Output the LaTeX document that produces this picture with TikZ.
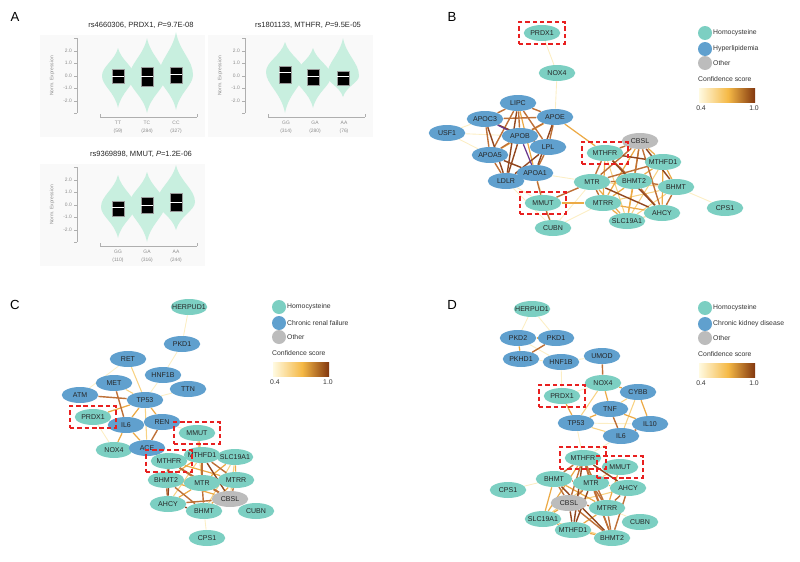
\documentclass[tikz,border=0pt]{standalone}
\usepackage{fontspec}
\setmainfont{Liberation Sans}
\usetikzlibrary{shapes.geometric, fit, backgrounds}

\definecolor{hcyfill}{RGB}{124,207,194}
\definecolor{disfill}{RGB}{96,160,206}
\definecolor{othfill}{RGB}{188,188,188}
\definecolor{violinfill}{RGB}{200,239,223}
\definecolor{plotbg}{RGB}{249,249,249}
\definecolor{axisgrey}{RGB}{175,175,175}
\definecolor{boxred}{RGB}{232,32,32}
\definecolor{conf1}{RGB}{252,238,196}
\definecolor{conf2}{RGB}{248,210,130}
\definecolor{conf3}{RGB}{236,170,70}
\definecolor{conf4}{RGB}{190,112,55}
\definecolor{conf5}{RGB}{145,70,30}
\definecolor{confp}{RGB}{105,55,140}
\definecolor{confbar1}{RGB}{255,250,225}
\definecolor{confbar2}{RGB}{245,185,70}
\definecolor{confbar3}{RGB}{130,55,15}

\tikzset{
    gene/.style={ellipse, minimum width=0.73cm, minimum height=0.32cm, inner xsep=-0.1cm, inner ysep=0pt,
        text=black!85, font=\fontsize{4}{4.5}\selectfont},
    hcy/.style={gene, fill=hcyfill},
    dis/.style={gene, fill=disfill},
    oth/.style={gene, fill=othfill},
    hitbox/.style={draw=boxred, line width=0.8pt, dash pattern=on 2.6pt off 1.6pt, inner xsep=0.09cm, inner ysep=0.05cm},
    edgepale/.style={draw=conf1, line width=0.5pt},
    edgelight/.style={draw=conf2, line width=0.6pt},
    edgemid/.style={draw=conf3, line width=0.7pt},
    edgestrong/.style={draw=conf4, line width=0.8pt},
    edgedark/.style={draw=conf5, line width=0.8pt},
    edgepurple/.style={draw=confp, line width=0.7pt},
    dot/.style={circle, minimum size=0.28cm, inner sep=0pt},
    legtext/.style={anchor=west, inner sep=0.5pt, text=black!80, font=\fontsize{3.9}{4.5}\selectfont},
    ticklabel/.style={inner sep=0.5pt, text=black!45, font=\fontsize{2.8}{3.2}\selectfont},
    plottitle/.style={inner sep=0.5pt, text=black!85, font=\fontsize{4.3}{5}\selectfont},
    axisline/.style={draw=axisgrey, line width=0.3pt},
    panellabel/.style={inner sep=0pt, font=\fontsize{7.5}{8}\selectfont},
}

% violin: x, top, widest, bottom, half width, box top, median, box bottom
\newcommand\violin[8]{%
    \fill[violinfill] (#1,#2) .. controls ({#1+0.2*#5},{#2+0.45*(#3-#2)}) and ({#1+#5},{#3-0.35*(#3-#2)}) .. ({#1+#5},#3)
        .. controls ({#1+#5},{#3+0.3*(#4-#3)}) and ({#1+0.2*#5},{#4-0.5*(#4-#3)}) .. (#1,#4)
        .. controls ({#1-0.2*#5},{#4-0.5*(#4-#3)}) and ({#1-#5},{#3+0.3*(#4-#3)}) .. ({#1-#5},#3)
        .. controls ({#1-#5},{#3-0.35*(#3-#2)}) and ({#1-0.2*#5},{#2+0.45*(#3-#2)}) .. (#1,#2) -- cycle;
    \filldraw[fill=black, draw=black!40, line width=0.3pt] ({#1-6},#6) rectangle ({#1+6},#8);
    \draw[white, line width=0.4pt] ({#1-6},#7) -- ({#1+6},#7);
}

% axes of one eQTL plot: prefix, three genotypes, three counts
\newcommand\violinframe[7]{%
    \fill[plotbg] (40,35) rectangle (205,137);
    \draw[axisline] (77,38) -- (77,113) (100,117) -- (197,117) (100,114) -- (100,117) (197,114) -- (197,117);
    \foreach \yy in {38,51,63,76,88,101,113} \draw[axisline] (74,\yy) -- (77,\yy);
    \foreach \v/\yy in {2.0/51,1.0/63,0.0/76,-1.0/88,-2.0/101}
        \node[ticklabel, anchor=east] (#1tick\yy) at (73,\yy) {\v};
    \node[ticklabel, rotate=90] (#1ylab) at (52,76) {Norm. Expression};
    \node[ticklabel] (#1gA) at (118,123) {#2};
    \node[ticklabel] (#1gB) at (147,123) {#3};
    \node[ticklabel] (#1gC) at (176,123) {#4};
    \node[ticklabel] (#1nA) at (118,131) {(#5)};
    \node[ticklabel] (#1nB) at (147,131) {(#6)};
    \node[ticklabel] (#1nC) at (176,131) {(#7)};
}

% legend of one network: prefix, disease
\newcommand\legendblock[2]{%
    \node[dot, fill=hcyfill] (#1dotH) at (705,33) {};
    \node[legtext] (#1txtH) at (712,33) {Homocysteine};
    \node[dot, fill=disfill] (#1dotD) at (705,49) {};
    \node[legtext] (#1txtD) at (712,49) {#2};
    \node[dot, fill=othfill] (#1dotO) at (705,63) {};
    \node[legtext] (#1txtO) at (712,63) {Other};
    \node[legtext] (#1conf) at (697,79) {Confidence score};
    \shade[left color=confbar1, right color=confbar2] (699,88) rectangle (728,102);
    \shade[left color=confbar2, right color=confbar3] (728,88) rectangle (755,102);
    \node[legtext, anchor=center] (#1low) at (701,108) {0.4};
    \node[legtext, anchor=center] (#1high) at (754,108) {1.0};
}

\begin{document}
\begin{tikzpicture}[x=0.02cm, y=-0.02cm]
    \useasboundingbox (0,0) rectangle (800,561);

    % ---------- A: eQTL violins
    \node[panellabel] (labA) at (15,17) {A};
    \node[plottitle] (titleA1) at (141,25) {rs4660306, PRDX1, \textit{P}=9.7E-08};
    \node[plottitle] (titleA2) at (308,25) {rs1801133, MTHFR, \textit{P}=9.5E-05};
    \node[plottitle] (titleA3) at (141,154) {rs9369898, MMUT, \textit{P}=1.2E-06};

    \violinframe{pa}{TT}{TC}{CC}{59}{284}{327}
    \violin{118}{48}{76}{108}{16}{69}{76}{83}
    \violin{147}{38}{78}{113}{18}{67}{76}{86}
    \violin{176}{32}{75}{110}{17}{67}{74}{83}

    \begin{scope}[shift={(168,0)}]
        \violinframe{pb}{GG}{GA}{AA}{314}{280}{76}
        \violin{117}{42}{72}{113}{19}{66}{72}{83}
        \violin{145}{48}{76}{108}{18}{69}{76}{85}
        \violin{175}{38}{76}{97}{16}{71}{76}{85}
    \end{scope}

    \begin{scope}[shift={(0,129)}]
        \violinframe{pc}{GG}{GA}{AA}{110}{316}{244}
        \violin{118}{46}{78}{109}{17}{72}{78}{87}
        \violin{147}{43}{76}{113}{18}{68}{76}{84}
        \violin{176}{36}{73}{101}{19}{64}{73}{82}
    \end{scope}

    % ---------- B: homocysteine / hyperlipidemia
    \node[panellabel] (labB) at (452,17) {B};
    \node[hcy] (bPRDX1) at (542,33) {PRDX1};
    \node[hcy] (bNOX4) at (557,73) {NOX4};
    \node[dis] (bLIPC) at (518,103) {LIPC};
    \node[dis] (bAPOE) at (555,117) {APOE};
    \node[dis] (bAPOC3) at (485,119) {APOC3};
    \node[dis] (bUSF1) at (447,133) {USF1};
    \node[dis] (bAPOB) at (520,136) {APOB};
    \node[oth] (bCBSL) at (640,141) {CBSL};
    \node[dis] (bLPL) at (548,147) {LPL};
    \node[dis] (bAPOA5) at (490,155) {APOA5};
    \node[hcy] (bMTHFR) at (605,153) {MTHFR};
    \node[hcy] (bMTHFD1) at (663,162) {MTHFD1};
    \node[dis] (bLDLR) at (506,181) {LDLR};
    \node[dis] (bAPOA1) at (535,173) {APOA1};
    \node[hcy] (bMTR) at (592,182) {MTR};
    \node[hcy] (bBHMT2) at (634,181) {BHMT2};
    \node[hcy] (bBHMT) at (676,187) {BHMT};
    \node[hcy] (bMMUT) at (543,203) {MMUT};
    \node[hcy] (bMTRR) at (603,203) {MTRR};
    \node[hcy] (bAHCY) at (662,213) {AHCY};
    \node[hcy] (bCPS1) at (725,208) {CPS1};
    \node[hcy] (bSLC19A1) at (627,221) {SLC19A1};
    \node[hcy] (bCUBN) at (553,228) {CUBN};
    \legendblock{lb}{Hyperlipidemia}

    \begin{scope}[on background layer]
        \foreach \u/\v in {PRDX1/NOX4, NOX4/APOE, USF1/APOC3, USF1/APOA5, USF1/APOB, LDLR/CUBN, APOA1/CUBN,
            CUBN/MTRR, CUBN/MTR, BHMT/CPS1, APOA1/MTR, LDLR/MMUT}
            \draw[edgepale] (b\u) -- (b\v);
        \foreach \u/\v in {MTR/BHMT, MTHFR/SLC19A1, AHCY/SLC19A1, BHMT/SLC19A1, MTHFD1/SLC19A1, MTRR/BHMT}
            \draw[edgelight] (b\u) -- (b\v);
        \foreach \u/\v in {APOE/MTHFR, MMUT/MTRR, CBSL/MTHFD1, MTHFD1/BHMT2, MTHFD1/BHMT, MTHFD1/AHCY, MTR/SLC19A1,
            MTRR/SLC19A1, MTRR/AHCY, BHMT2/SLC19A1, BHMT2/MTRR, CBSL/SLC19A1, CBSL/MTRR, MTHFR/MTRR, LIPC/APOA1, APOE/APOA5}
            \draw[edgemid] (b\u) -- (b\v);
        \foreach \u/\v in {LIPC/APOC3, LIPC/APOE, LIPC/APOB, LIPC/LPL, LIPC/APOA5, APOC3/APOE, APOC3/APOA5, APOE/APOB,
            APOE/LPL, APOB/LPL, APOB/APOA5, LPL/APOA1, APOA5/LDLR, LDLR/APOA1, APOA1/MMUT, MMUT/MTR, MMUT/CUBN,
            CBSL/MTHFR, CBSL/MTR, CBSL/BHMT2, MTHFR/MTR, MTHFR/BHMT2, MTR/MTRR, MTR/BHMT2, BHMT2/BHMT, BHMT2/AHCY,
            BHMT/AHCY, MTHFD1/MTR, CBSL/AHCY}
            \draw[edgestrong] (b\u) -- (b\v);
        \foreach \u/\v in {LIPC/LDLR, APOC3/LDLR, APOE/APOA1, APOB/LDLR, LPL/LDLR, APOA5/APOA1, APOC3/LPL,
            MTHFR/MTHFD1, CBSL/BHMT, MTHFR/AHCY, MTR/AHCY}
            \draw[edgedark] (b\u) -- (b\v);
        \foreach \u/\v in {APOC3/APOB, APOB/APOA1}
            \draw[edgepurple] (b\u) -- (b\v);
    \end{scope}

    % ---------- C: homocysteine / chronic renal failure
    \node[panellabel] (labC) at (15,305) {C};
    \node[hcy] (cHERPUD1) at (189,307) {HERPUD1};
    \node[dis] (cPKD1) at (182,344) {PKD1};
    \node[dis] (cRET) at (128,359) {RET};
    \node[dis] (cHNF1B) at (163,375) {HNF1B};
    \node[dis] (cMET) at (114,383) {MET};
    \node[dis] (cTTN) at (188,389) {TTN};
    \node[dis] (cATM) at (80,395) {ATM};
    \node[dis] (cTP53) at (145,400) {TP53};
    \node[hcy] (cPRDX1) at (93,417) {PRDX1};
    \node[dis] (cIL6) at (126,425) {IL6};
    \node[dis] (cREN) at (162,422) {REN};
    \node[hcy] (cMMUT) at (197,433) {MMUT};
    \node[hcy] (cNOX4) at (114,450) {NOX4};
    \node[dis] (cACE) at (147,448) {ACE};
    \node[hcy] (cMTHFD1) at (202,455) {MTHFD1};
    \node[hcy] (cSLC19A1) at (235,457) {SLC19A1};
    \node[hcy] (cMTHFR) at (169,461) {MTHFR};
    \node[hcy] (cBHMT2) at (166,480) {BHMT2};
    \node[hcy] (cMTRR) at (236,480) {MTRR};
    \node[hcy] (cMTR) at (202,483) {MTR};
    \node[oth] (cCBSL) at (230,499) {CBSL};
    \node[hcy] (cAHCY) at (168,504) {AHCY};
    \node[hcy] (cBHMT) at (204,511) {BHMT};
    \node[hcy] (cCUBN) at (256,511) {CUBN};
    \node[hcy] (cCPS1) at (207,538) {CPS1};
    \begin{scope}[shift={(-426,274)}]
        \legendblock{lc}{Chronic renal failure}
    \end{scope}

    \begin{scope}[on background layer]
        \foreach \u/\v in {HERPUD1/PKD1, PKD1/HNF1B, HNF1B/TP53, TTN/TP53, RET/ATM, PRDX1/IL6, PRDX1/NOX4, NOX4/ACE,
            IL6/REN, REN/MMUT, BHMT/CPS1, CBSL/CUBN}
            \draw[edgepale] (c\u) -- (c\v);
        \foreach \u/\v in {RET/TP53, MET/TP53, TP53/ACE, MMUT/MTR, SLC19A1/CBSL, MTHFD1/AHCY, MTHFR/SLC19A1, SLC19A1/BHMT}
            \draw[edgelight] (c\u) -- (c\v);
        \foreach \u/\v in {TP53/PRDX1, IL6/NOX4, TP53/REN, ACE/MTHFR, TP53/IL6, MMUT/MTHFD1, IL6/ACE, SLC19A1/MTR,
            SLC19A1/MTRR, MTHFD1/SLC19A1, BHMT2/CBSL, AHCY/MTR, MTHFR/MTRR, MTHFD1/BHMT2, BHMT/MTRR}
            \draw[edgemid] (c\u) -- (c\v);
        \foreach \u/\v in {ATM/TP53, MET/IL6, REN/ACE, MTHFR/MTR, MTHFR/BHMT2, MTHFR/MTHFD1, MTHFD1/MTR, MTHFD1/MTRR,
            BHMT2/MTR, BHMT2/AHCY, MTR/CBSL, MTR/BHMT, AHCY/CBSL, BHMT/CBSL, MTRR/CBSL, BHMT2/BHMT, MTHFR/CBSL}
            \draw[edgestrong] (c\u) -- (c\v);
        \foreach \u/\v in {MTHFR/AHCY, MTR/MTRR, AHCY/BHMT, MTHFD1/CBSL}
            \draw[edgedark] (c\u) -- (c\v);
    \end{scope}

    % ---------- D: homocysteine / chronic kidney disease
    \node[panellabel] (labD) at (452,305) {D};
    \node[hcy] (dHERPUD1) at (532,309) {HERPUD1};
    \node[dis] (dPKD2) at (518,338) {PKD2};
    \node[dis] (dPKD1) at (556,338) {PKD1};
    \node[dis] (dPKHD1) at (521,359) {PKHD1};
    \node[dis] (dHNF1B) at (561,362) {HNF1B};
    \node[dis] (dUMOD) at (602,356) {UMOD};
    \node[hcy] (dNOX4) at (603,383) {NOX4};
    \node[dis] (dCYBB) at (638,392) {CYBB};
    \node[hcy] (dPRDX1) at (562,396) {PRDX1};
    \node[dis] (dTNF) at (610,409) {TNF};
    \node[dis] (dTP53) at (576,423) {TP53};
    \node[dis] (dIL10) at (650,424) {IL10};
    \node[dis] (dIL6) at (621,436) {IL6};
    \node[hcy] (dMTHFR) at (583,458) {MTHFR};
    \node[hcy] (dMMUT) at (620,467) {MMUT};
    \node[hcy] (dBHMT) at (554,479) {BHMT};
    \node[hcy] (dMTR) at (591,483) {MTR};
    \node[hcy] (dCPS1) at (508,490) {CPS1};
    \node[hcy] (dAHCY) at (628,488) {AHCY};
    \node[oth] (dCBSL) at (569,503) {CBSL};
    \node[hcy] (dMTRR) at (607,508) {MTRR};
    \node[hcy] (dSLC19A1) at (543,519) {SLC19A1};
    \node[hcy] (dCUBN) at (640,522) {CUBN};
    \node[hcy] (dMTHFD1) at (573,530) {MTHFD1};
    \node[hcy] (dBHMT2) at (612,538) {BHMT2};
    \begin{scope}[shift={(0,275)}]
        \legendblock{ld}{Chronic kidney disease}
    \end{scope}

    \begin{scope}[on background layer]
        \foreach \u/\v in {HERPUD1/PKD2, HERPUD1/PKD1, PKHD1/HNF1B, PKD2/HNF1B, HNF1B/UMOD, HNF1B/PRDX1, NOX4/PRDX1,
            TP53/IL10, TP53/MTHFR, IL6/MTHFR, BHMT/CPS1, MTRR/CUBN}
            \draw[edgepale] (d\u) -- (d\v);
        \foreach \u/\v in {NOX4/TP53, CYBB/TNF, CYBB/IL6, TP53/IL6, SLC19A1/MTR, AHCY/CBSL, SLC19A1/BHMT2, MMUT/MTR}
            \draw[edgelight] (d\u) -- (d\v);
        \foreach \u/\v in {PKD2/PKD1, PKD2/PKHD1, NOX4/CYBB, NOX4/TNF, PRDX1/TP53, CYBB/IL10, TNF/TP53, TNF/IL10,
            BHMT/SLC19A1, SLC19A1/CBSL, SLC19A1/MTHFD1, MTHFD1/MTRR, MTHFD1/BHMT2, AHCY/MTR, MTHFR/SLC19A1,
            BHMT/MTRR, MMUT/MTRR}
            \draw[edgemid] (d\u) -- (d\v);
        \foreach \u/\v in {PKD1/PKHD1, UMOD/NOX4, TNF/IL6, IL10/IL6, MTHFR/MTR, MTHFR/BHMT, MTHFR/CBSL, MTHFR/MTRR,
            MTHFR/BHMT2, BHMT/MTR, BHMT/CBSL, MTR/CBSL, MTR/MTRR, CBSL/MTRR, CBSL/BHMT2, MTRR/BHMT2, AHCY/MTRR,
            AHCY/BHMT2, MTR/BHMT2}
            \draw[edgestrong] (d\u) -- (d\v);
        \foreach \u/\v in {MTHFR/AHCY, BHMT/BHMT2, CBSL/MTHFD1, MTR/MTHFD1, MTHFR/MTHFD1}
            \draw[edgedark] (d\u) -- (d\v);
    \end{scope}

    % red dashed frames
    \foreach \g in {bPRDX1, bMTHFR, bMMUT, cPRDX1, cMMUT, cMTHFR, dPRDX1, dMTHFR, dMMUT}
        \node[hitbox, fit=(\g)] (frame\g) {};
\end{tikzpicture}
\end{document}
